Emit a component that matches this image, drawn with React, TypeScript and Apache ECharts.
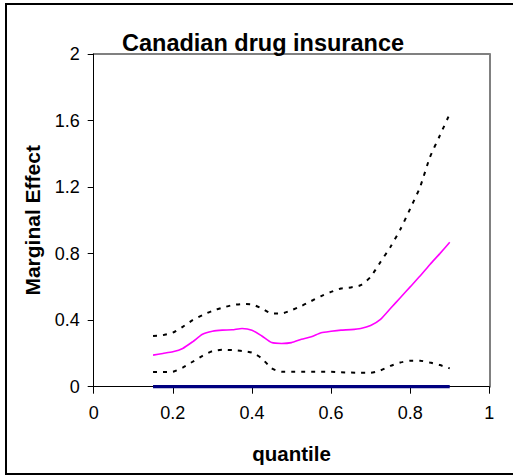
import React, { useEffect, useRef } from "react";
import * as echarts from "echarts";

const quantiles = [
  0.15, 0.175, 0.2, 0.225, 0.25, 0.275, 0.3, 0.325, 0.35, 0.375, 0.4, 0.425, 0.45, 0.475, 0.5, 0.525,
  0.55, 0.575, 0.6, 0.625, 0.65, 0.675, 0.7, 0.725, 0.75, 0.775, 0.8, 0.825, 0.85, 0.875, 0.9,
];
const estimate = [
  0.19, 0.2, 0.21, 0.23, 0.27, 0.315, 0.333, 0.34, 0.342, 0.35, 0.34, 0.305, 0.265, 0.26, 0.265, 0.285,
  0.3, 0.324, 0.333, 0.34, 0.343, 0.35, 0.368, 0.405, 0.47, 0.535, 0.6, 0.665, 0.735, 0.8, 0.868,
];
const upperBand = [
  0.305, 0.31, 0.325, 0.36, 0.4, 0.43, 0.456, 0.475, 0.49, 0.497, 0.495, 0.47, 0.44, 0.44, 0.46, 0.485,
  0.515, 0.545, 0.57, 0.59, 0.597, 0.61, 0.66, 0.75, 0.84, 0.945, 1.07, 1.2, 1.38, 1.51, 1.64,
];
const lowerBand = [
  0.088, 0.088, 0.09, 0.115, 0.15, 0.185, 0.214, 0.222, 0.22, 0.215, 0.205, 0.17, 0.11, 0.09, 0.09, 0.09,
  0.09, 0.09, 0.09, 0.087, 0.085, 0.084, 0.084, 0.098, 0.125, 0.145, 0.156, 0.156, 0.145, 0.13, 0.11,
];
const zeroLine = quantiles.map(() => 0);

const titleText = "Canadian drug insurance";
const xName = "quantile";
const yName = "Marginal Effect";

const FONT = "'Liberation Sans', Arial, sans-serif";

const pairs = (vals: number[]) => quantiles.map((q, i) => [q, vals[i]]);

export default function App() {
  const ref = useRef<HTMLDivElement>(null);
  useEffect(() => {
    if (!ref.current) return;
    const chart = echarts.init(ref.current, undefined, { renderer: "svg" });
    const grid = { left: 93.7, right: 23.7, top: 54, bottom: 88.3 };
    chart.setOption({
      animation: false,
      backgroundColor: "#fff",
      title: {
        text: titleText,
        left: 117,
        top: 26,
        textStyle: { fontFamily: FONT, fontWeight: "bold", fontSize: 23.5, color: "#000" },
      },
      grid,
      graphic: [
        {
          type: "rect",
          shape: { x: 6, y: 4, width: 520, height: 470 },
          style: { fill: "none", stroke: "#000", lineWidth: 2 },
          z: 0,
        },
      ],
      xAxis: [
        {
          type: "value",
          min: 0,
          max: 1,
          interval: 0.2,
          name: xName,
          nameLocation: "middle",
          nameGap: 56,
          nameTextStyle: { fontFamily: FONT, fontWeight: "bold", fontSize: 20.5, color: "#000" },
          axisLine: { show: true, lineStyle: { color: "#000", width: 1 } },
          axisTick: { show: true, length: 7, lineStyle: { color: "#000" } },
          axisLabel: { margin: 17, fontFamily: FONT, fontSize: 18, color: "#000" },
          splitLine: { show: false },
          z: 5,
        },
        {
          type: "value",
          position: "top",
          min: 0,
          max: 1,
          axisLine: { show: true, onZero: false, lineStyle: { color: "#808080", width: 2 } },
          axisTick: { show: false },
          axisLabel: { show: false },
          splitLine: { show: false },
        },
      ],
      yAxis: [
        {
          type: "value",
          min: 0,
          max: 2,
          interval: 0.4,
          name: yName,
          nameLocation: "middle",
          nameGap: 51,
          nameTextStyle: { fontFamily: FONT, fontWeight: "bold", fontSize: 21, color: "#000" },
          axisLine: { show: true, lineStyle: { color: "#000", width: 1 } },
          axisTick: { show: true, length: 6, lineStyle: { color: "#000" } },
          axisLabel: { margin: 14, fontFamily: FONT, fontSize: 18, color: "#000" },
          splitLine: { show: false },
          z: 5,
        },
        {
          type: "value",
          position: "right",
          min: 0,
          max: 2,
          axisLine: { show: true, onZero: false, lineStyle: { color: "#808080", width: 2 } },
          axisTick: { show: false },
          axisLabel: { show: false },
          splitLine: { show: false },
        },
      ],
      series: [
        {
          type: "line",
          data: pairs(upperBand),
          smooth: 0.2,
          symbol: "none",
          lineStyle: { color: "#000", width: 2, type: [4, 6] },
        },
        {
          type: "line",
          data: pairs(lowerBand),
          smooth: 0.2,
          symbol: "none",
          lineStyle: { color: "#000", width: 2, type: [4, 6] },
        },
        {
          type: "line",
          data: pairs(estimate),
          smooth: 0.2,
          symbol: "none",
          lineStyle: { color: "#FF00FF", width: 1.6 },
        },
        {
          type: "line",
          data: pairs(zeroLine),
          symbol: "none",
          lineStyle: { color: "#000080", width: 3.5 },
          z: 6,
        },
      ],
    });
    return () => chart.dispose();
  }, []);
  return (
    <div
      ref={ref}
      style={{ position: "fixed", left: 0, top: 0, width: 513, height: 475 }}
    />
  );
}
